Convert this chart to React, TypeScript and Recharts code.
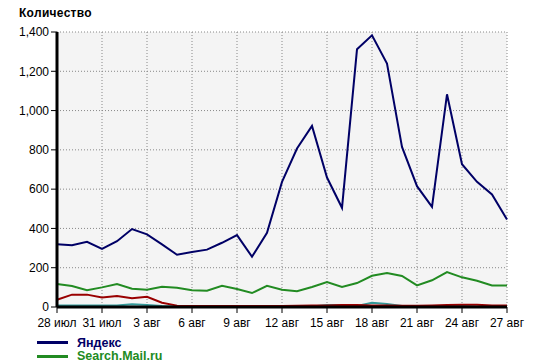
import React from "react";
import { LineChart, Line, XAxis, YAxis, CartesianGrid } from "recharts";

const dates = [
  "28 июл", "29 июл", "30 июл", "31 июл",
  "1 авг", "2 авг", "3 авг", "4 авг", "5 авг", "6 авг", "7 авг", "8 авг", "9 авг", "10 авг",
  "11 авг", "12 авг", "13 авг", "14 авг", "15 авг", "16 авг", "17 авг", "18 авг", "19 авг", "20 авг",
  "21 авг", "22 авг", "23 авг", "24 авг", "25 авг", "26 авг", "27 авг",
];
const tickDates = ["28 июл", "31 июл", "3 авг", "6 авг", "9 авг", "12 авг", "15 авг", "18 авг", "21 авг", "24 авг", "27 авг"];
const yTicks = [0, 200, 400, 600, 800, 1000, 1200, 1400];

const yandex = [320, 315, 332, 296, 335, 397, 370, 319, 266, 280, 292, 327, 366, 256, 378, 637, 807, 922, 659, 505, 1312, 1383, 1239, 815, 615, 510, 1083, 727, 637, 573, 446];
const mail = [117, 107, 85, 100, 117, 93, 88, 103, 98, 85, 83, 108, 92, 71, 108, 88, 80, 102, 127, 102, 122, 159, 173, 158, 110, 136, 178, 151, 134, 110, 110];
const google = [37, 63, 63, 49, 56, 44, 52, 22, 7, 5, 5, 5, 5, 5, 5, 5, 6, 8, 8, 10, 10, 8, 8, 6, 6, 8, 10, 12, 12, 8, 8];
const rambler = [8, 8, 8, 8, 8, 14, 10, 5, 3, 3, 3, 3, 3, 3, 5, 3, 3, 3, 10, 10, 5, 22, 15, 5, 3, 3, 3, 5, 0, 3, 3];

const series = [
  { key: "yandex", name: "Яндекс", color: "#000066", legend: true },
  { key: "mail", name: "Search.Mail.ru", color: "#228B22", legend: true },
  { key: "google", name: "Google", color: "#990000", legend: false },
  { key: "rambler", name: "Rambler", color: "#339999", legend: false },
];

const data = dates.map((d, i) => ({
  date: d,
  yandex: yandex[i],
  mail: mail[i],
  google: google[i],
  rambler: rambler[i],
}));

const font = "'Liberation Sans', Arial, sans-serif";

const fmt = (v: number) => v.toLocaleString("en-US");

export default function App() {
  return (
    <div
      style={{
        position: "absolute",
        left: 0,
        top: 0,
        width: 536,
        height: 363,
        overflow: "hidden",
        background: "#ffffff",
        fontFamily: font,
      }}
    >
      <div
        style={{
          position: "absolute",
          left: 19,
          top: 6,
          fontSize: 12,
          fontWeight: "bold",
          color: "#000",
          letterSpacing: 0.3,
        }}
      >
        Количество
      </div>
      <LineChart
        width={536}
        height={363}
        data={data}
        margin={{ top: 32, right: 29, bottom: 0, left: 0 }}
      >
        <CartesianGrid
          stroke="#888"
          strokeDasharray="1 2"
          fill="#f4f4f4"
        />
        <XAxis
          dataKey="date"
          ticks={tickDates}
          interval={0}
          height={56}
          tickSize={6}
          tickMargin={5}
          axisLine={{ stroke: "#000", strokeWidth: 3 }}
          tickLine={{ stroke: "#000", strokeWidth: 1 }}
          tick={{ fill: "#000", fontSize: 12, fontFamily: font }}
        />
        <YAxis
          domain={[0, 1400]}
          ticks={yTicks}
          width={57}
          tickSize={6}
          tickMargin={2}
          tickFormatter={fmt}
          axisLine={{ stroke: "#000", strokeWidth: 3 }}
          tickLine={{ stroke: "#000", strokeWidth: 1 }}
          tick={{ fill: "#000", fontSize: 12, fontFamily: font }}
        />
        {[...series].reverse().map((s) => (
          <Line
            key={s.key}
            dataKey={s.key}
            name={s.name}
            stroke={s.color}
            strokeWidth={2}
            dot={false}
            activeDot={false}
            type="linear"
            isAnimationActive={false}
          />
        ))}
      </LineChart>
      <div style={{ position: "absolute", left: 37, top: 336 }}>
        {series.filter((s) => s.legend).map((s) => (
          <div key={s.key} style={{ display: "flex", alignItems: "center", height: 13.5 }}>
            <div style={{ width: 31, height: 3, background: s.color }} />
            <div
              style={{
                marginLeft: 9,
                fontSize: 12.5,
                fontWeight: "bold",
                color: s.color,
                lineHeight: "12px",
              }}
            >
              {s.name}
            </div>
          </div>
        ))}
      </div>
    </div>
  );
}
